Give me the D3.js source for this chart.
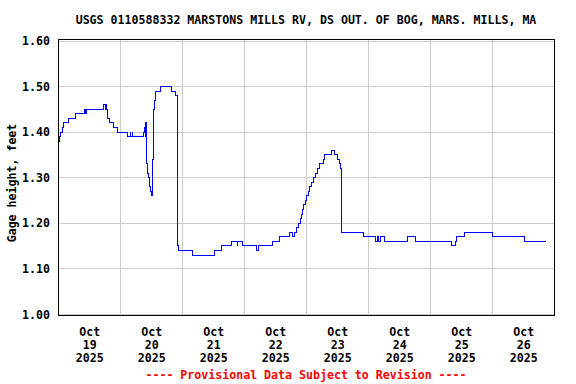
<!DOCTYPE html>
<html>
<head>
<meta charset="utf-8">
<script src="https://cdn.jsdelivr.net/npm/d3@7"></script>
<style>
body { margin: 0; background: #fff; }
text { font-family: "DejaVu Sans Mono", monospace; font-weight: bold; font-size: 11.6px; }
.grid line { stroke: #cccccc; stroke-width: 1; shape-rendering: crispEdges; }
.frame { fill: none; stroke: #000; stroke-width: 1; shape-rendering: crispEdges; }
.gage { fill: none; stroke: #0000ff; stroke-width: 1; shape-rendering: crispEdges; }
</style>
</head>
<body>
<div id="chart"></div>
<script>
var TITLE = "USGS 0110588332 MARSTONS MILLS RV, DS OUT. OF BOG, MARS. MILLS, MA";
var Y_LABEL = "Gage height, feet";
var NOTE = "---- Provisional Data Subject to Revision ----";

// hours after Oct 19 2025 00:00, gage height (ft) held until the next reading
var hours = [
    0.2, 0.25, 0.5, 1.0, 1.5, 2.2, 3.9, 6.6, 10.2, 10.5, 10.9, 17.6, 18.1, 18.3, 18.5,
    19.1, 19.7, 21.5, 23.0, 26.6, 27.8, 28.1, 28.6, 28.9, 32.9, 33.3, 33.6, 33.9,
    34.1, 34.4, 34.8, 35.2, 35.6, 36.0, 36.3, 36.7, 37.0, 37.4, 37.8, 39.4, 43.9,
    45.4, 46.0, 46.4, 51.9, 60.4, 63.0, 66.9, 69.2, 69.5, 71.2, 76.8, 77.4, 82.9,
    85.6, 89.6, 90.7, 91.3, 92.3, 92.9, 93.6, 94.2, 94.5, 94.9, 95.5, 96.2, 96.8,
    97.4, 98.1, 98.7, 99.4, 100.4, 101.3, 102.6, 103.2, 105.6, 106.9, 108.2, 108.8,
    109.4, 109.7, 118.1, 122.9, 123.6, 123.9, 124.6, 126.3, 135.1, 138.1, 152.3,
    153.9, 154.3, 157.2, 168.2, 180.4, 188.7
];
var heights = [
    1.36, 1.38, 1.39, 1.40, 1.41, 1.42, 1.43, 1.44, 1.45, 1.44, 1.45, 1.46, 1.45, 1.46, 1.45,
    1.43, 1.42, 1.41, 1.40, 1.39, 1.40, 1.39, 1.40, 1.39, 1.40, 1.41, 1.39, 1.42,
    1.33, 1.31, 1.30, 1.28, 1.27, 1.26, 1.34, 1.40, 1.45, 1.47, 1.49, 1.50, 1.49,
    1.48, 1.15, 1.14, 1.13, 1.14, 1.15, 1.16, 1.15, 1.16, 1.15, 1.14, 1.15, 1.16,
    1.17, 1.18, 1.17, 1.18, 1.19, 1.20, 1.21, 1.22, 1.23, 1.24, 1.25, 1.26, 1.27,
    1.28, 1.29, 1.30, 1.31, 1.32, 1.33, 1.34, 1.35, 1.36, 1.35, 1.34, 1.33,
    1.32, 1.18, 1.17, 1.16, 1.17, 1.16, 1.17, 1.16, 1.17, 1.16, 1.15,
    1.16, 1.17, 1.18, 1.17, 1.16, 1.16
];

var days = [19, 20, 21, 22, 23, 24, 25, 26];
var yTicks = [1.00, 1.10, 1.20, 1.30, 1.40, 1.50, 1.60];

var width = 576,
    height = 384;

var START = Date.UTC(2025, 9, 19);
var HOUR = 3600000;

function dayDate(d, h) {
    return new Date(Date.UTC(2025, 9, d) + (h || 0) * HOUR);
}

var x = d3.scaleUtc()
    .domain([dayDate(19), dayDate(27)])
    .range([58.3, 554.3]);

var y = d3.scaleLinear()
    .domain([1.0, 1.6])
    .range([314.3, 41]);

var svg = d3.select("#chart")
    .append("svg")
    .attr("width", width)
    .attr("height", height);

var data = hours.map(function (h, i) {
    return { t: new Date(START + h * HOUR), v: heights[i] };
});

// grid
var grid = svg.append("g").attr("class", "grid");

grid.selectAll(".hgrid")
    .data(yTicks)
    .enter().append("line")
    .attr("x1", 58)
    .attr("x2", 554)
    .attr("y1", function (d) { return y(d); })
    .attr("y2", function (d) { return y(d); });

grid.selectAll(".vgrid")
    .data(days.slice(1))
    .enter().append("line")
    .attr("x1", function (d) { return x(dayDate(d)); })
    .attr("x2", function (d) { return x(dayDate(d)); })
    .attr("y1", 39)
    .attr("y2", 316);

// gage line
var line = d3.line()
    .curve(d3.curveStepAfter)
    .x(function (d) { return x(d.t); })
    .y(function (d) { return y(d.v); });

svg.append("path")
    .datum(data)
    .attr("class", "gage")
    .attr("d", line);

svg.append("rect")
    .attr("class", "frame")
    .attr("x", 58.5)
    .attr("y", 39.5)
    .attr("width", 496)
    .attr("height", 276);

// y axis labels
var yAxis = d3.axisLeft(y)
    .tickValues(yTicks)
    .tickSize(0)
    .tickPadding(8)
    .tickFormat(d3.format(".2f"));

var yG = svg.append("g")
    .attr("transform", "translate(58,0)")
    .call(yAxis);
yG.select(".domain").remove();
yG.attr("font-family", null).attr("font-size", null);
yG.selectAll("text").attr("fill", "#000");

// x axis labels, centered at noon of each day
var xAxis = d3.axisBottom(x)
    .tickValues(days.map(function (d) { return dayDate(d, 12); }))
    .tickSize(0)
    .tickFormat(function (d) { return d.getUTCDate(); });

var xG = svg.append("g")
    .attr("transform", "translate(0,316)")
    .call(xAxis);
xG.select(".domain").remove();
xG.attr("font-family", null).attr("font-size", null);
xG.selectAll("text").each(function (d) {
    var t = d3.select(this).text("").attr("y", 0).attr("dy", null).attr("fill", "#000");
    ["Oct", String(d.getUTCDate()), "2025"].forEach(function (s, i) {
        t.append("tspan")
            .attr("x", 0)
            .attr("y", 19.5 + i * 13)
            .text(s);
    });
});

svg.append("text")
    .attr("x", 306)
    .attr("y", 24)
    .attr("text-anchor", "middle")
    .text(TITLE);

svg.append("text")
    .attr("transform", "translate(16,183) rotate(-90)")
    .attr("text-anchor", "middle")
    .text(Y_LABEL);

svg.append("text")
    .attr("x", 306)
    .attr("y", 379)
    .attr("text-anchor", "middle")
    .attr("fill", "#ff0000")
    .text(NOTE);
</script>
</body>
</html>
